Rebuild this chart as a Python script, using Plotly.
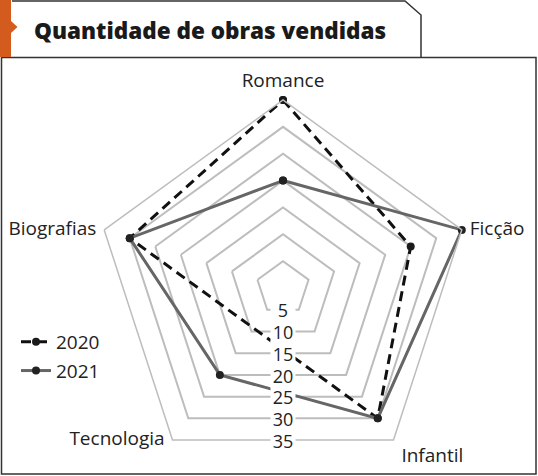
import math
import plotly.graph_objects as go

categorias = ["Romance", "Ficção", "Infantil", "Tecnologia", "Biografias"]
vendas_2020 = [35, 25, 30, None, 30]   # Tecnologia sem valor em 2020
vendas_2021 = [20, 35, 30, 20, 30]
ticks_radiais = [5, 10, 15, 20, 25, 30, 35]

W, H = 538, 476
FONTE = "Open Sans"
CINZA_GRADE = "#bdbdbd"
R_MAX = 35
AJUSTE_TICK = 0.6   # texto "middle center" do plotly fica um pouco alto

# onde cada nome de categoria fica em relacao ao vertice externo
pos_rotulos = ["top center", "middle right", "bottom right", "middle left", "middle left"]


def fechar(cats, vals):
    # tira os pontos sem valor e fecha o poligono
    pares = [(c, v) for c, v in zip(cats, vals) if v is not None]
    cs = [p[0] for p in pares]
    vs = [p[1] for p in pares]
    return cs + cs[:1], vs + vs[:1]


def px(x, y):
    # pixel da pagina -> coordenada paper
    return x / W, 1 - y / H


fig = go.Figure()

t20, r20 = fechar(categorias, vendas_2020)
t21, r21 = fechar(categorias, vendas_2021)

fig.add_trace(go.Scatterpolar(
    r=r20, theta=t20, name="2020", mode="lines+markers",
    line=dict(color="#111111", width=3, dash="10px,6px"),
    marker=dict(color="#1a1a1a", size=8),
    legendgroup="a",
))
fig.add_trace(go.Scatterpolar(
    r=r21, theta=t21, name="2021", mode="lines+markers",
    line=dict(color="#666666", width=3),
    marker=dict(color="#222222", size=8),
    legendgroup="b",
))
# ponto central
fig.add_trace(go.Scatterpolar(
    r=[0], theta=[categorias[0]], mode="markers", showlegend=False,
    marker=dict(color="#222222", size=4), hoverinfo="skip",
))
# nomes das categorias junto aos vertices
fig.add_trace(go.Scatterpolar(
    r=[R_MAX] * len(categorias), theta=categorias, text=categorias,
    mode="markers+text", textposition=pos_rotulos, cliponaxis=False,
    textfont=dict(family=FONTE, size=19, color="#222222"),
    marker=dict(size=11, opacity=0), showlegend=False, hoverinfo="skip",
))

# rotulos do eixo radial, sobre a aresta de baixo de cada pentagono
r_ticks = [t * math.cos(math.pi / 5) for t in ticks_radiais]
fig.add_trace(go.Scatterpolar(
    r=r_ticks, theta=[270] * len(ticks_radiais),
    mode="markers", marker=dict(symbol="square", size=25, color="white"),
    showlegend=False, hoverinfo="skip", subplot="polar2",
))
fig.add_trace(go.Scatterpolar(
    r=[r + AJUSTE_TICK for r in r_ticks], theta=[270] * len(ticks_radiais),
    text=[str(t) for t in ticks_radiais],
    mode="text", textposition="middle center",
    textfont=dict(family=FONTE, size=18, color="#222222"),
    showlegend=False, hoverinfo="skip", subplot="polar2", cliponaxis=False,
))

dom_x = [(283 - 188) / W, (283 + 188) / W]
dom_y = [0, 376 / H]

fig.update_layout(
    width=W, height=H,
    margin=dict(l=0, r=0, t=0, b=0),
    paper_bgcolor="white",
    font=dict(family=FONTE, size=19, color="#222222"),
    showlegend=True,
    legend=dict(
        x=px(16, 0)[0], y=px(0, 323)[1], xanchor="left", yanchor="top",
        bgcolor="rgba(0,0,0,0)", font=dict(size=19),
        traceorder="grouped", tracegroupgap=1,
    ),
    polar=dict(
        domain=dict(x=dom_x, y=dom_y),
        bgcolor="white",
        gridshape="linear",
        radialaxis=dict(
            range=[0, R_MAX], tickvals=ticks_radiais, showticklabels=False,
            ticks="", showline=False, gridcolor=CINZA_GRADE, gridwidth=1.5,
        ),
        angularaxis=dict(
            type="category", categoryarray=categorias,
            direction="clockwise", rotation=90,
            showgrid=False, ticks="", showticklabels=False, showline=True,
            linecolor=CINZA_GRADE, linewidth=1.5,
        ),
    ),
    polar2=dict(
        domain=dict(x=dom_x, y=dom_y),
        bgcolor="rgba(0,0,0,0)",
        radialaxis=dict(range=[0, R_MAX], visible=False),
        angularaxis=dict(visible=False),
    ),
)

# moldura, aba do titulo e barra laranja
x0, y0 = px(1.5, 57.5)
x1, y1 = px(536, 474)
fig.add_shape(type="rect", xref="paper", yref="paper", x0=x0, y0=y1, x1=x1, y1=y0,
              line=dict(color="#333333", width=1.5), layer="below")

aba = [(12, 1), (405, 1), (421, 15), (421, 57.5)]
caminho = "M " + " L ".join("%f,%f" % px(a, b) for a, b in aba)
fig.add_shape(type="path", xref="paper", yref="paper", path=caminho,
              line=dict(color="#333333", width=1.5))

laranja = [(0, 0), (11, 0), (11, 21), (17.5, 27), (11, 33), (11, 57), (0, 57)]
caminho_l = "M " + " L ".join("%f,%f" % px(a, b) for a, b in laranja) + " Z"
fig.add_shape(type="path", xref="paper", yref="paper", path=caminho_l,
              fillcolor="#d45b1e", line=dict(width=0))

tx, ty = px(32, 30)
fig.add_annotation(
    text="Quantidade de obras vendidas", xref="paper", yref="paper",
    x=tx, y=ty, xanchor="left", yanchor="middle", showarrow=False,
    font=dict(family=FONTE, size=22.5, color="#1a1a1a", weight=800),
)

# sem a margem padrao do body
fig.write_html("out.html", config={"displayModeBar": False},
               post_script="document.body.style.margin='0px';document.body.style.overflow='hidden';")
